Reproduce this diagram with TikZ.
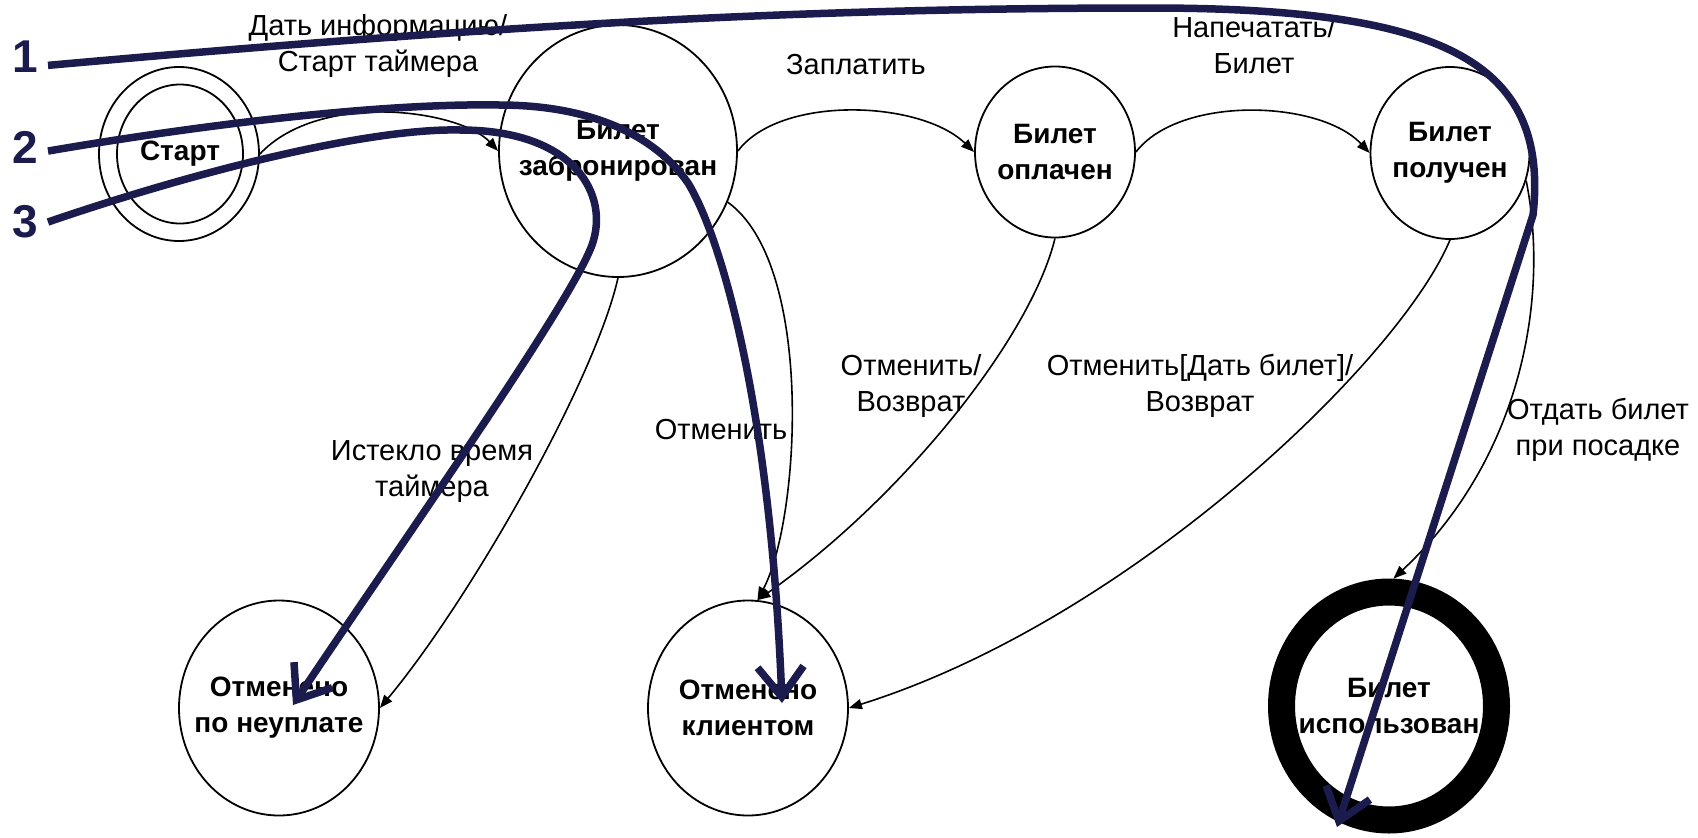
\documentclass[tikz,border=0pt]{standalone}
\usepackage{fontspec}
\setmainfont{Liberation Sans}
\usetikzlibrary{shapes.geometric,arrows.meta}
\definecolor{navy}{RGB}{27,27,77}
\newcommand{\lblfont}{\fontsize{29}{36}\selectfont}
\newcommand{\stfont}{\bfseries\fontsize{28}{36}\selectfont}
\newcommand{\numfont}{\bfseries\fontsize{46}{50}\selectfont}
\begin{document}
\begin{tikzpicture}[x=1pt,y=-1pt,
  st/.style={draw, ellipse, line width=1.8pt, inner sep=0pt},
  stxt/.style={font=\stfont, align=center, inner sep=0pt},
  tr/.style={line width=1.6pt, -{Triangle[length=13pt,width=10pt]}},
  lbl/.style={font=\lblfont, align=center, inner sep=0pt},
  nav/.style={draw=navy, line width=7.5pt, -{Straight Barb[length=30pt,width=46pt]}},
  num/.style={font=\numfont, text=navy, inner sep=10pt}]
\useasboundingbox[fill=white] (0,0) rectangle (1698,838);

% states
\node[st, minimum width=160pt, minimum height=174pt] (start) at (179,154) {};
\node[st, minimum width=126pt, minimum height=139pt,
      label={[stxt]center:Старт}] (starti) at (180,154) {};
\node[st, minimum width=238pt, minimum height=252pt,
      label={[stxt]center:Билет\\забронирован}] (zab) at (618,151) {};
\node[st, minimum width=160pt, minimum height=171pt,
      label={[stxt]center:Билет\\оплачен}] (opl) at (1055,152) {};
\node[st, minimum width=159pt, minimum height=172pt,
      label={[stxt]center:Билет\\получен}] (pol) at (1450,153) {};
\node[st, minimum width=200pt, minimum height=215pt,
      label={[stxt]center:Отменено\\по неуплате}] (neu) at (279,708) {};
\node[st, minimum width=200pt, minimum height=215pt,
      label={[stxt]center:Отменено\\клиентом}] (kli) at (748,708) {};
\node[draw, ellipse, line width=27pt, inner sep=0pt,
      minimum width=215pt, minimum height=228pt,
      label={[stxt]center:Билет\\использован}] (isp) at (1389,706) {};

% transitions
\draw[tr] (start.east) .. controls (320,90) and (460,110) .. (zab.west);
\draw[tr] (zab.east) .. controls (780,95) and (920,100) .. (opl.west);
\draw[tr] (opl.east) .. controls (1180,95) and (1320,100) .. (pol.west);
\draw[tr] (zab.south) .. controls (595,380) and (470,600) .. (neu.east);
\draw[tr] (zab.-25) .. controls (815,265) and (800,520) .. (kli.85);
\draw[tr] (opl.south) .. controls (1030,340) and (900,500) .. (kli.85);
\draw[tr] (pol.south) .. controls (1400,360) and (1130,620) .. (kli.east);
\draw[tr] (pol.-20) .. controls (1550,300) and (1520,460) .. (isp.88);

% labels
\node[lbl] (linfo) at (378,46) {Дать информацию/\\Старт таймера};
\node[lbl] (lpay) at (856,65) {Заплатить};
\node[lbl] (lprint) at (1254,45) {Напечатать/\\Билет};
\node[lbl] (ltimer) at (432,472) {Истекло время\\таймера};
\node[lbl] (lcancel) at (721,430) {Отменить};
\node[lbl] (lref) at (911,386) {Отменить/\\Возврат};
\node[lbl] (lref2) at (1200,386) {Отменить[Дать билет]/\\Возврат};
\node[lbl] (lboard) at (1598,430) {Отдать билет\\при посадке};

% scenario paths
\node[num] (n1) at (25,57) {1};
\node[num] (n2) at (25,147) {2};
\node[num] (n3) at (25,222) {3};
\coordinate (e1) at (1337,827);
\coordinate (e2) at (782,703);
\coordinate (e3) at (293,705);

\draw[nav] (n1.-20) .. controls (500,25) and (800,8) .. (1150,8)
  .. controls (1440,8) and (1550,60) .. (1533,215) -- (e1);
\draw[nav] (n2.-10) .. controls (200,125) and (380,103) .. (499,105)
  .. controls (590,105) and (655,135) .. (688,183)
  .. controls (720,235) and (770,400) .. (e2);
\draw[nav] (n3.east) .. controls (200,170) and (370,128) .. (460,130)
  .. controls (575,130) and (610,195) .. (592,245)
  .. controls (570,305) and (400,545) .. (e3);
\end{tikzpicture}
\end{document}
